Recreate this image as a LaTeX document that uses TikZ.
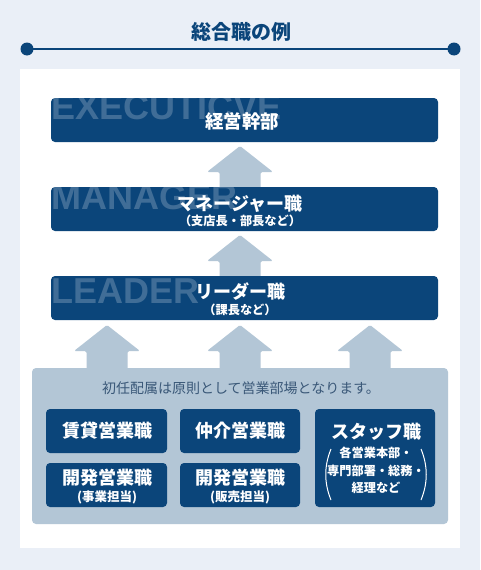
\documentclass[tikz,border=0pt]{standalone}
\usepackage{fontspec}
\newfontfamily\jp{Noto Sans CJK JP}
\newfontfamily\lat{Liberation Sans}
\definecolor{bgcol}{HTML}{EAEFF7}
\definecolor{dark}{HTML}{0B457A}
\definecolor{arrowcol}{HTML}{B3C6D6}
\definecolor{greytext}{HTML}{3A5878}
\newcommand\fs[1]{\fontsize{#1}{#1}\selectfont}
\newcommand\blockarrow[3]{%
  \fill[arrowcol, rounded corners=1.5pt] (#1,#2) -- (#1+33,#2+26) -- (#1+20.5,#2+26) -- (#1+20.5,#3) -- (#1-20.5,#3) -- (#1-20.5,#2+26) -- (#1-33,#2+26) -- cycle;}
\tikzset{
  bigbox/.style={rectangle, rounded corners=4pt, fill=dark, inner sep=0pt, minimum width=387pt, minimum height=44pt},
  smallbox/.style={rectangle, rounded corners=4pt, fill=dark, inner sep=0pt, minimum width=121pt, minimum height=44pt},
  ghost/.style={anchor=base west, inner sep=0pt, text=white, text opacity=0.22, font=\lat\bfseries\fs{36}},
  maintext/.style={inner sep=0pt, text=white, font=\jp\bfseries\fs{18}},
  subtext/.style={inner sep=0pt, text=white, font=\jp\bfseries\fs{12.2}},
}
\begin{document}
\begin{tikzpicture}[x=1pt,y=-1pt]
\fill[bgcol] (0,0) rectangle (480,570);
\useasboundingbox (0,0) rectangle (480,570);
% title
\node[inner sep=0pt, text=dark, font=\jp\bfseries\fs{20}] (title) at (241,32) {総合職の例};
\coordinate (tl) at (27,49);
\coordinate (tr) at (454,49);
\draw[dark, line width=1.3pt] (tl) -- (tr);
\fill[dark] (tl) circle (6.5);
\fill[dark] (tr) circle (6.5);
% panel
\fill[white] (20,69) rectangle (460,548);
% arrows (behind boxes)
\blockarrow{240}{146}{190}
\blockarrow{240}{235}{279}
\blockarrow{107}{325}{370}
\blockarrow{240}{325}{370}
\blockarrow{370}{325}{370}
% executive
\node[bigbox] (exec) at (244.5,120) {};
\begin{scope}
\clip[rounded corners=4pt] (exec.south west) rectangle (exec.north east);
\node[ghost] (execg) at (51,119) {EXECUTICVE};
\end{scope}
\node[maintext, font=\jp\bfseries\fs{18.5}] (exect) at (242,121) {経営幹部};
% manager
\node[bigbox] (mgr) at (244.5,209) {};
\begin{scope}
\clip[rounded corners=4pt] (mgr.south west) rectangle (mgr.north east);
\node[ghost] (mgrg) at (51,209) {MANAGER};
\end{scope}
\node[maintext] (mgrt) at (240,204) {マネージャー職};
\node[subtext] (mgrs) at (240,221) {（支店長・部長など）};
% leader
\node[bigbox] (ldr) at (244.5,298) {};
\begin{scope}
\clip[rounded corners=4pt] (ldr.south west) rectangle (ldr.north east);
\node[ghost] (ldrg) at (51,303) {LEADER};
\end{scope}
\node[maintext] (ldrt) at (240,292) {リーダー職};
\node[subtext] (ldrs) at (240,310) {（課長など）};
% container
\node[rectangle, rounded corners=4pt, fill=arrowcol, minimum width=416pt, minimum height=156pt, inner sep=0pt] (cont) at (240,446) {};
\node[inner sep=0pt, text=greytext, font=\jp\fs{14}] (note) at (241,388) {初任配属は原則として営業部場となります。};
% small boxes
\node[smallbox] (b1) at (106.5,431) {};
\node[maintext] (b1t) at (107,431) {賃貸営業職};
\node[smallbox, minimum width=120pt] (b2) at (240,431) {};
\node[maintext] (b2t) at (240,431) {仲介営業職};
\node[smallbox] (b4) at (106.5,485) {};
\node[maintext] (b4t) at (107,478) {開発営業職};
\node[subtext, font=\jp\bfseries\fs{12.5}] (b4s) at (107,497) {(事業担当)};
\node[smallbox, minimum width=120pt] (b5) at (240,485) {};
\node[maintext] (b5t) at (240,478) {開発営業職};
\node[subtext, font=\jp\bfseries\fs{12.5}] (b5s) at (240,497) {(販売担当)};
\node[smallbox, minimum width=120pt, minimum height=98pt] (b3) at (375,458) {};
\node[maintext] (b3t) at (376,432) {スタッフ職};
\node[subtext] (b3a) at (376,453) {各営業本部・};
\node[subtext] (b3b) at (376,471) {専門部署・総務・};
\node[subtext] (b3c) at (376,488) {経理など};
\draw[white, line width=1pt] (331,449) .. controls (324,466) and (324,483) .. (331,500);
\draw[white, line width=1pt] (421,449) .. controls (428,466) and (428,483) .. (421,500);
\end{tikzpicture}
\end{document}
